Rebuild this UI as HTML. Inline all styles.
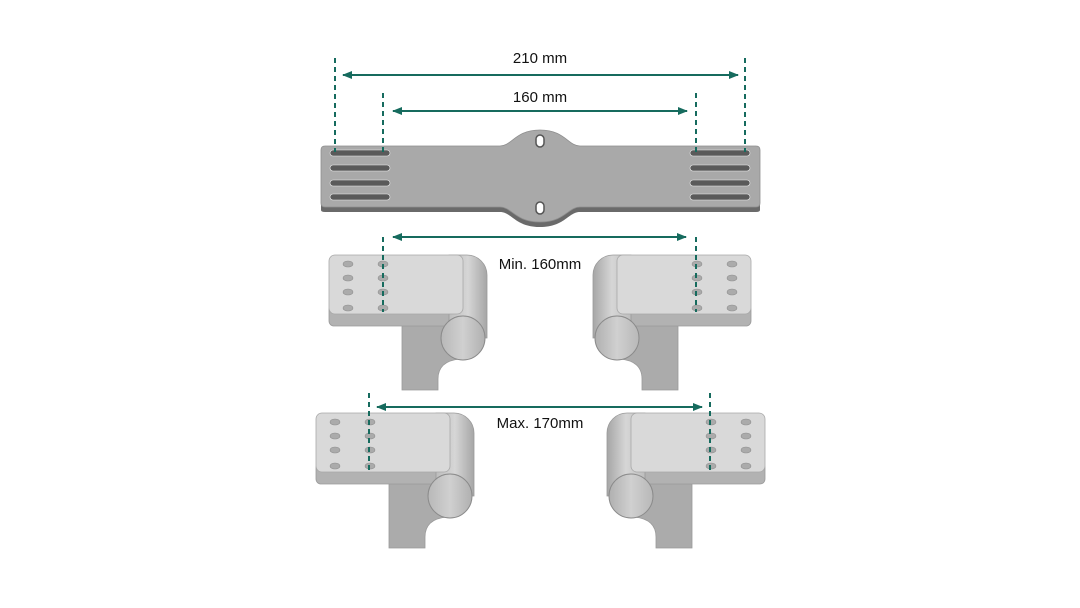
<!DOCTYPE html>
<html><head><style>html,body{margin:0;padding:0;background:#fff;}svg{display:block}</style></head><body>
<svg width="1080" height="608" viewBox="0 0 1080 608" xmlns="http://www.w3.org/2000/svg" font-family="Liberation Sans, sans-serif">
<defs>
<linearGradient id="cyl" x1="0" x2="1" y1="0" y2="0"><stop offset="0" stop-color="#bdbdbd"/><stop offset="0.5" stop-color="#d6d6d6"/><stop offset="1" stop-color="#a6a6a6"/></linearGradient>
<linearGradient id="end" x1="0" x2="1"><stop offset="0" stop-color="#b8b8b8"/><stop offset="0.5" stop-color="#d0d0d0"/><stop offset="1" stop-color="#b0b0b0"/></linearGradient>
<marker id="ah" markerWidth="10" markerHeight="8" refX="9" refY="4" orient="auto-start-reverse" markerUnits="userSpaceOnUse"><path d="M0,0 L10,4 L0,8 Z" fill="#166b5e"/></marker>
<g id="br">
<path d="M73,62 V135 H109 V124 Q109,106 131,104 L136,62 Z" fill="#ababab" stroke="#9a9a9a" stroke-width="0.8"/>
<rect x="0" y="50" width="138" height="21" rx="5" fill="#b2b2b2" stroke="#9a9a9a" stroke-width="0.8"/>
<path d="M120,0 H138 A20 20 0 0 1 158 20 V83 H120 Z" fill="url(#cyl)" stroke="#9a9a9a" stroke-width="0.8"/>
<rect x="0" y="0" width="134" height="59" rx="6" fill="#d9d9d9" stroke="#a8a8a8" stroke-width="0.8"/>
<circle cx="134" cy="83" r="22" fill="url(#end)" stroke="#8a8a8a" stroke-width="1"/>
<g fill="#ababab" stroke="#8f8f8f" stroke-width="0.6">
<ellipse cx="19" cy="9" rx="5" ry="3"/><ellipse cx="19" cy="23" rx="5" ry="3"/><ellipse cx="19" cy="37" rx="5" ry="3"/><ellipse cx="19" cy="53" rx="5" ry="3"/>
<ellipse cx="54" cy="9" rx="5" ry="3"/><ellipse cx="54" cy="23" rx="5" ry="3"/><ellipse cx="54" cy="37" rx="5" ry="3"/><ellipse cx="54" cy="53" rx="5" ry="3"/>
</g>
</g>
</defs>

<!-- plate -->
<path d="M321,152 Q321,150 325,150 H500 C512,150 515,134 540,134 C565,134 568,150 580,150 H756 Q760,150 760,154 V210 Q760,212 756,212 H580 C568,212 565,227 540,227 C515,227 512,212 500,212 H325 Q321,212 321,210 Z" fill="#6a6a6a"/>
<path d="M321,150 Q321,146 325,146 H500 C512,146 515,130 540,130 C565,130 568,146 580,146 H756 Q760,146 760,150 V203 Q760,207 756,207 H580 C568,207 565,222 540,222 C515,222 512,207 500,207 H325 Q321,207 321,203 Z" fill="#a9a9a9" stroke="#8f8f8f" stroke-width="0.8"/>
<g fill="#5a5a5a" stroke="#eee" stroke-width="0.6">
<rect x="330" y="150" width="60" height="6" rx="3"/><rect x="330" y="165" width="60" height="6" rx="3"/><rect x="330" y="180" width="60" height="6" rx="3"/><rect x="330" y="194" width="60" height="6" rx="3"/>
<rect x="690" y="150" width="60" height="6" rx="3"/><rect x="690" y="165" width="60" height="6" rx="3"/><rect x="690" y="180" width="60" height="6" rx="3"/><rect x="690" y="194" width="60" height="6" rx="3"/>
</g>
<rect x="536" y="135" width="8" height="12" rx="4" fill="#fff" stroke="#555" stroke-width="1.5"/>
<rect x="536" y="202" width="8" height="12" rx="4" fill="#fff" stroke="#555" stroke-width="1.5"/>

<!-- brackets -->
<use href="#br" transform="translate(329,255)"/>
<use href="#br" transform="translate(751,255) scale(-1,1)"/>
<use href="#br" transform="translate(316,413)"/>
<use href="#br" transform="translate(765,413) scale(-1,1)"/>

<!-- dimensions -->
<g stroke="#166b5e" stroke-width="2" fill="none">
<g stroke-dasharray="5,4">
<line x1="335" y1="58" x2="335" y2="152"/><line x1="745" y1="58" x2="745" y2="152"/>
<line x1="383" y1="93" x2="383" y2="152"/><line x1="696" y1="93" x2="696" y2="152"/>
<line x1="383" y1="237" x2="383" y2="312"/><line x1="696" y1="237" x2="696" y2="312"/>
<line x1="369" y1="393" x2="369" y2="472"/><line x1="710" y1="393" x2="710" y2="472"/>
</g>
<line x1="343" y1="75" x2="738" y2="75" marker-start="url(#ah)" marker-end="url(#ah)"/>
<line x1="393" y1="111" x2="687" y2="111" marker-start="url(#ah)" marker-end="url(#ah)"/>
<line x1="393" y1="237" x2="686" y2="237" marker-start="url(#ah)" marker-end="url(#ah)"/>
<line x1="377" y1="407" x2="702" y2="407" marker-start="url(#ah)" marker-end="url(#ah)"/>
</g>
<g font-size="15" fill="#111" text-anchor="middle">
<text x="540" y="63">210 mm</text>
<text x="540" y="102">160 mm</text>
<text x="540" y="269">Min. 160mm</text>
<text x="540" y="428">Max. 170mm</text>
</g>
</svg>
</body></html>
